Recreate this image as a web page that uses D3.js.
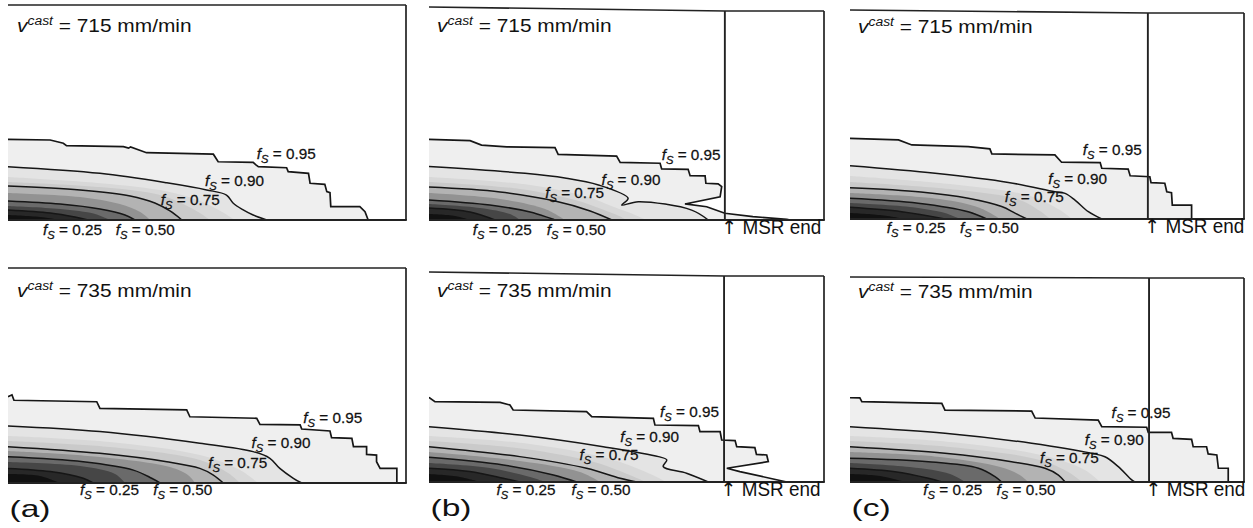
<!DOCTYPE html>
<html>
<head>
<meta charset="utf-8">
<script src="https://cdn.jsdelivr.net/npm/d3@7"></script>
<style>
body { margin: 0; background: #fff; }
svg text { font-family: "Liberation Sans", Arial, sans-serif; fill: #111; }
svg text.fs { stroke: #111; stroke-width: 0.25; }
</style>
</head>
<body>
<svg id="chart" width="1253" height="528"></svg>
<script>
// solid fraction levels, outermost first (fill order)
const levels = [0.95, 0.90, 0.85, 0.80, 0.75, 0.65, 0.50, 0.40, 0.25, 0.10];
const labelled = [0.95, 0.90, 0.75, 0.50, 0.25];
const castSpeed = [715, 715, 715, 735, 735, 735];
const panelTag = ["", "", "", "(a)", "(b)", "(c)"];
const msrEnd = [null, 74.9, 75.6, null, 74.7, 75.9];

// contour lines: [x (% of length), y (% of height)], one array per level
const fsA715 = [
  [[0,37.5],[10.6,37.2],[13.9,35.7],[14.7,34.6],[29.0,34.1],[30.3,33.4],[30.8,34.0],[34.8,31.3],[51.6,30.6],[52.8,27.1],[61.6,26.8],[62.3,25.6],[62.9,24.8],[70.0,24.3],[70.4,22.5],[75.5,21.7],[75.9,17.1],[79.6,16.6],[80.1,13.2],[80.9,12.7],[81.1,6.2],[88.4,6.2],[89.7,3.9],[90.5,0]],
  [[0,24.8],[23.1,21.7],[39.9,17.3],[49.9,14.0],[54.9,11.6],[56.6,7.8],[59.1,4.7],[61.6,2.3],[65.0,0]],
  [[0,20.0],[25.6,16.7],[41.7,12.6],[49.5,7.9],[53.8,3.7],[57.0,0]],
  [[0,17.7],[23.1,15.3],[38.2,11.6],[44.5,7.0],[48.2,3.3],[50.8,0]],
  [[0,15.8],[18.1,14.0],[30.7,11.2],[36.9,7.9],[40.7,4.2],[43.7,0]],
  [[0,12.6],[18.1,10.7],[28.1,7.4],[33.2,3.7],[35.7,0]],
  [[0,8.8],[13.1,7.4],[23.1,5.1],[29.4,2.3],[31.9,0]],
  [[0,6.5],[13.1,5.1],[21.9,2.8],[25.6,0]],
  [[0,4.7],[10.6,3.3],[16.8,1.4],[20.1,0]],
  [[0,2.3],[8.0,1.4],[13.1,0]]
];
const fsB715 = [
  [[0,38.2],[10.4,37.6],[13.3,35.5],[19.7,34.7],[31.9,34.3],[32.7,31.1],[47.5,30.3],[48.4,27.3],[58.5,26.9],[58.9,24.2],[65.6,24.0],[66.1,21.0],[69.9,20.9],[70.1,17.4],[73.2,17.1],[74.1,15.8],[73.7,11.0],[64.8,7.6],[70.3,6.3],[74.9,3.2],[82.0,1.6],[90.6,0.3],[91.4,0]],
  [[0,25.3],[24.3,22.1],[34.4,19.9],[42.9,16.6],[50.4,10.3],[48.8,7.1],[53.0,8.7],[66.5,4.7],[70.7,0]],
  [[0,20.4],[25.6,16.6],[40.0,11.0],[47.0,6.0],[52.0,2.5],[55.0,0]],
  [[0,18.0],[23.0,14.7],[37.0,9.5],[44.0,5.0],[48.0,2.0],[50.0,0]],
  [[0,15.6],[18.0,13.3],[31.9,9.0],[40.8,4.3],[46.3,0]],
  [[0,12.8],[18.0,10.0],[29.4,5.2],[34.4,0]],
  [[0,9.5],[15.4,7.1],[25.6,3.8],[31.9,0]],
  [[0,7.6],[12.9,5.7],[20.5,2.8],[23.0,0]],
  [[0,5.7],[10.4,3.8],[16.7,0]],
  [[0,2.8],[6.6,1.9],[10.4,0]]
];
const fsC715 = [
  [[0,38.8],[12.3,38.0],[15.7,35.6],[30.0,34.8],[35.5,33.7],[36.0,31.3],[52.0,30.8],[53.7,27.3],[63.5,27.1],[63.9,24.4],[70.6,24.0],[71.1,20.8],[76.1,20.3],[76.4,17.5],[79.9,17.2],[80.4,13.1],[81.6,12.6],[81.8,6.7],[86.7,6.7],[86.7,0]],
  [[0,25.6],[21.6,22.0],[40.2,17.6],[52.0,13.1],[54.6,12.3],[57.1,9.1],[60.5,3.5],[63.9,0]],
  [[0,20.7],[25.4,16.8],[45.7,11.1],[53.3,4.3],[56.3,0]],
  [[0,17.8],[27.9,13.9],[43.1,9.1],[48.2,3.8],[50.8,0]],
  [[0,15.0],[18.0,13.0],[30.0,10.0],[38.5,6.0],[42.0,2.7],[44.9,0]],
  [[0,12.5],[22.8,9.6],[33.0,5.3],[38.1,0]],
  [[0,10.0],[17.3,7.6],[30.0,3.5],[34.7,0]],
  [[0,7.7],[15.2,5.8],[24.1,2.9],[27.9,0]],
  [[0,5.6],[13.1,3.5],[24.1,0]],
  [[0,2.9],[7.6,1.9],[14.0,0]]
];
const fsA735 = [
  [[0,40.1],[1.0,41.0],[1.5,38.5],[22.3,37.8],[23.1,34.7],[44.9,34.0],[45.7,30.8],[62.5,30.1],[63.3,27.3],[73.4,27.0],[73.8,25.1],[80.9,24.2],[81.3,21.1],[86.4,20.8],[86.8,16.9],[90.1,16.9],[90.1,13.3],[92.6,13.0],[92.6,9.9],[93.5,6.8],[97.7,6.8],[97.7,0]],
  [[0,26.5],[23.1,23.9],[48.2,18.5],[61.6,14.6],[65.8,11.5],[68.3,6.8],[71.7,2.2],[73.8,0]],
  [[0,21.9],[25.6,19.1],[48.2,13.0],[58.3,6.0],[62.8,0]],
  [[0,19.5],[25.6,16.7],[48.2,10.7],[55.3,4.7],[58.3,0]],
  [[0,16.9],[23.1,13.8],[39.9,9.9],[48.2,6.8],[51.6,3.7],[54.1,0]],
  [[0,14.9],[23.1,12.1],[40.7,7.4],[45.2,3.7],[47.0,0]],
  [[0,12.2],[18.9,9.9],[31.5,6.0],[36.1,2.2],[38.2,0]],
  [[0,9.8],[18.1,7.9],[26.9,4.2],[29.4,0]],
  [[0,6.8],[10.6,5.3],[18.9,2.2],[21.4,0]],
  [[0,4.2],[8.0,3.3],[13.1,0]]
];
const fsB735 = [
  [[0,40.7],[1.5,38.6],[18.0,38.3],[20.5,37.0],[21.3,34.6],[39.9,33.8],[41.2,31.4],[56.8,30.6],[57.2,27.4],[68.2,27.1],[68.6,24.2],[73.7,24.2],[74.1,20.2],[77.5,19.9],[77.9,17.0],[82.5,16.5],[82.9,13.3],[85.5,13.0],[85.9,9.8],[75.4,6.6],[78.7,5.0],[90.6,0]],
  [[0,26.6],[23.0,22.6],[44.1,17.0],[58.1,12.2],[60.2,10.6],[59.3,7.4],[65.2,4.2],[70.7,0]],
  [[0,22.1],[25.6,18.3],[45.0,11.5],[54.0,5.5],[58.0,2.0],[60.0,0]],
  [[0,19.7],[24.3,15.9],[42.0,9.5],[50.0,4.0],[55.0,0]],
  [[0,17.0],[23.0,12.2],[39.9,6.6],[48.4,1.8],[52.6,0]],
  [[0,14.4],[23.0,10.1],[38.2,4.8],[43.3,0]],
  [[0,11.9],[18.8,8.2],[31.5,3.4],[37.4,0]],
  [[0,9.1],[15.4,6.7],[25.6,2.4],[29.4,0]],
  [[0,6.6],[10.3,5.0],[18.8,1.8],[23.0,0]],
  [[0,3.8],[7.8,2.4],[12.9,0]]
];
const fsC735 = [
  [[0,41.1],[2.5,41.0],[3.0,39.2],[23.3,38.4],[24.1,35.1],[46.1,34.6],[47.0,31.2],[63.0,30.2],[63.9,27.0],[75.3,26.7],[75.7,24.2],[81.6,24.2],[82.0,21.3],[86.7,20.8],[87.1,17.2],[90.5,17.2],[90.9,13.7],[93.1,13.2],[93.5,6.7],[96.0,6.7],[96.0,0]],
  [[0,27.0],[24.1,23.8],[46.1,18.9],[61.3,14.0],[64.7,12.3],[68.1,7.5],[71.5,1.0],[72.3,0]],
  [[0,22.4],[25.4,19.5],[49.5,12.7],[59.6,5.9],[63.5,0]],
  [[0,20.0],[25.4,17.1],[48.2,10.7],[55.8,4.4],[58.9,0]],
  [[0,17.2],[24.1,14.0],[41.0,9.9],[49.5,6.7],[52.9,3.4],[54.6,0]],
  [[0,14.6],[22.8,12.2],[38.1,7.3],[43.1,3.4],[45.2,0]],
  [[0,11.6],[19.9,9.9],[32.6,6.7],[36.8,2.6],[38.5,0]],
  [[0,9.3],[15.2,7.3],[25.4,3.9],[29.2,0]],
  [[0,6.7],[11.4,5.0],[19.9,1.8],[23.3,0]],
  [[0,3.9],[7.6,2.9],[14.0,0]]
];

// label anchors per panel, in the order of `labelled`
const lblA715 = [[62.5,28.4],[49.5,15.8],[38.4,7.0],[27.1,-7.0],[8.8,-7.0]];
const lblB715 = [[58.9,28.4],[43.7,16.6],[29.4,10.3],[29.8,-7.1],[11.1,-7.1]];
const lblC715 = [[59.1,30.8],[50.3,17.0],[39.3,8.2],[27.9,-6.7],[9.3,-6.7]];
const lblA735 = [[74.2,27.9],[61.2,16.1],[50.3,7.0],[36.5,-5.6],[18.1,-5.6]];
const lblB735 = [[58.5,31.3],[48.4,19.2],[38.1,10.6],[36.1,-6.3],[17.1,-6.3]];
const lblC735 = [[66.4,31.2],[59.6,18.0],[48.2,9.3],[37.2,-6.3],[18.6,-6.3]];

const contourSets = [fsA715, fsB715, fsC715, fsA735, fsB735, fsC735];
const labelSets = [lblA715, lblB715, lblC715, lblA735, lblB735, lblC735];

// panel placement on the page
const layout = [
  {left: 8,   right: 406,  top: 5,   bottom: 220, topL: 5,   topR: 5,   titleX: 17,  titleY: 31.7},
  {left: 429, right: 824,  top: 9,   bottom: 220, topL: 7,   topR: 11,  titleX: 437, titleY: 31.7},
  {left: 850, right: 1244, top: 11,  bottom: 219, topL: 10,  topR: 13,  titleX: 858, titleY: 33.3},
  {left: 8,   right: 406,  top: 268, bottom: 483, topL: 268, topR: 268, titleX: 17,  titleY: 296.7},
  {left: 429, right: 824,  top: 274, bottom: 482, topL: 272, topR: 276, titleX: 437, titleY: 296.7},
  {left: 850, right: 1244, top: 277, bottom: 482, topL: 277, topR: 278, titleX: 858, titleY: 298.3}
];

const fillColor = d3.scaleOrdinal()
  .domain(levels)
  .range(["#efefef", "#e4e4e4", "#d8d8d8", "#cacaca", "#b3b3b3", "#929292", "#6a6a6a", "#464646", "#282828", "#111111"]);

const svg = d3.select("#chart");

function fsLabel(g, px, py, v){
  const t = g.append("text")
    .attr("class", "fs")
    .attr("transform", "translate(" + px + "," + py + ") scale(1.02,1)")
    .attr("font-size", 15);
  t.append("tspan").attr("font-style", "italic").text("f");
  t.append("tspan").attr("font-style", "italic").attr("font-size", 11).attr("dy", 4).text("S");
  t.append("tspan").attr("dy", -4).text(" = " + v.toFixed(2));
}

layout.forEach((p, i) => {
  const x = d3.scaleLinear().domain([0, 100]).range([p.left, p.right]);
  const y = d3.scaleLinear().domain([0, 100]).range([p.bottom, p.top]);
  const g = svg.append("g").attr("class", "panel");

  const clipId = "clip" + i;
  g.append("clipPath").attr("id", clipId)
   .append("rect")
   .attr("x", p.left).attr("y", p.top)
   .attr("width", p.right - p.left).attr("height", p.bottom - p.top);

  const stepLine = d3.line().x(d => x(d[0])).y(d => y(d[1])).curve(d3.curveLinear);
  const smoothLine = d3.line().x(d => x(d[0])).y(d => y(d[1])).curve(d3.curveCatmullRom.alpha(0.5));
  const lineFor = lv => lv === 0.95 ? stepLine : smoothLine;

  const sets = contourSets[i];
  const plot = g.append("g").attr("clip-path", "url(#" + clipId + ")");

  // filled bands, outer to inner
  plot.selectAll(".band")
    .data(levels)
    .enter().append("path")
    .attr("class", "band")
    .attr("d", (lv, k) => lineFor(lv)(sets[k]) + "L" + x(0) + "," + y(0) + "Z")
    .attr("fill", lv => fillColor(lv))
    .attr("stroke", "none");

  // drawn contour lines
  plot.selectAll(".iso")
    .data(labelled)
    .enter().append("path")
    .attr("class", "iso")
    .attr("d", lv => lineFor(lv)(sets[levels.indexOf(lv)]))
    .attr("fill", "none")
    .attr("stroke", "#161616")
    .attr("stroke-width", lv => lv === 0.95 ? 1.7 : 1.5);

  // frame: top, right, bottom (no left edge)
  const msr = msrEnd[i];
  const msrX = msr === null ? null : x(msr);
  const topPath = msr === null
    ? "M" + p.left + "," + p.topL + "L" + p.right + "," + p.topR
    : "M" + p.left + "," + p.topL + "L" + msrX + "," + p.topR + "L" + p.right + "," + p.topR;
  g.append("path").attr("d", topPath)
   .attr("fill", "none").attr("stroke", "#222").attr("stroke-width", 1.6);
  g.append("line")
   .attr("x1", p.right).attr("x2", p.right).attr("y1", p.topR).attr("y2", p.bottom)
   .attr("stroke", "#222").attr("stroke-width", 1.7);
  g.append("line")
   .attr("x1", p.left).attr("x2", p.right + 0.8).attr("y1", p.bottom).attr("y2", p.bottom)
   .attr("stroke", "#222").attr("stroke-width", 2.2);

  if (msr !== null){
    g.append("line")
     .attr("x1", msrX).attr("x2", msrX).attr("y1", p.topR).attr("y2", p.bottom)
     .attr("stroke", "#222").attr("stroke-width", 1.9);
    const m = g.append("text")
     .attr("transform", "translate(" + (msrX - 3.5) + "," + (p.bottom + 14) + ") scale(0.97,1)")
     .attr("font-size", 19.5);
    m.append("tspan").attr("font-family", "DejaVu Sans").text("\u2191");
    m.append("tspan").text(" MSR end");
  }

  // casting speed title
  const t = g.append("text")
    .attr("transform", "translate(" + p.titleX + "," + p.titleY + ") scale(1.16,1)")
    .attr("font-size", 18);
  t.append("tspan").attr("font-style", "italic").text("v");
  t.append("tspan").attr("font-style", "italic").attr("font-size", 12).attr("dy", -7).text("cast");
  t.append("tspan").attr("dy", 7).text(" = " + castSpeed[i] + " mm/min");

  // contour labels
  labelSets[i].forEach((pt, k) => {
    fsLabel(g, x(pt[0]), y(pt[1]), labelled[k]);
  });

  if (panelTag[i]){
    g.append("text")
     .attr("transform", "translate(" + (p.left + 1.5) + "," + (p.bottom + 34) + ") scale(1.4,1)")
     .attr("font-size", 24)
     .text(panelTag[i]);
  }
});
</script>
</body>
</html>
